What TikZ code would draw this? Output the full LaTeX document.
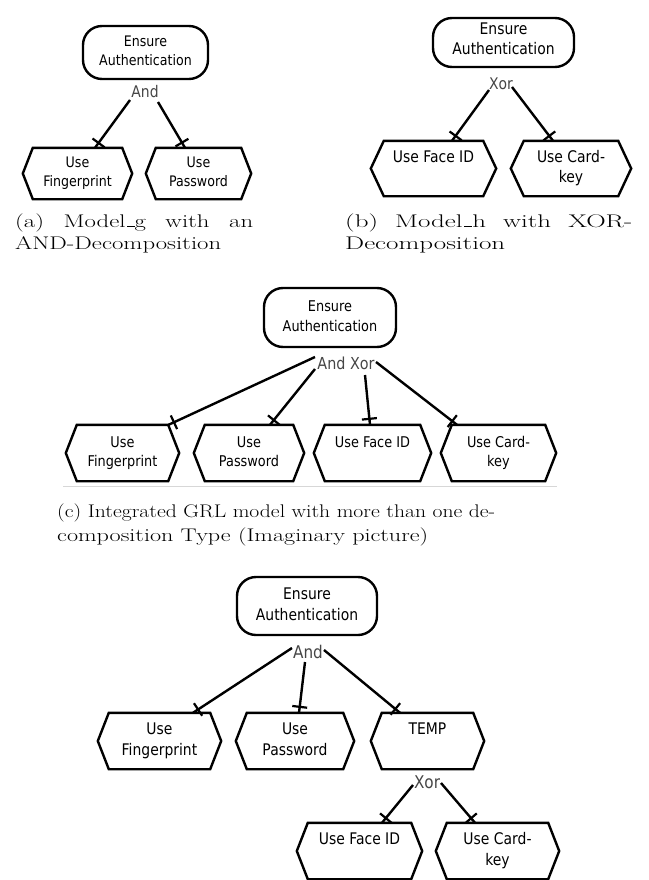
\documentclass[tikz,border=0pt]{standalone}
\usepackage{fontspec}
\usepackage{graphicx}
\newfontfamily\grlfont[FakeStretch=0.87]{DejaVu Sans}
\usetikzlibrary{calc,decorations.markings}

\definecolor{opgray}{RGB}{70,70,70}
\definecolor{rulegray}{RGB}{215,215,215}

\newlength\capnat
\newcommand\capfont{\fontsize{18.3}{22}\selectfont}
% sizes of the element texts, set per diagram
\newcommand\grlsize{14.5}
\newcommand\grlskip{19}
\newcommand\opsize{16}
% low-line as in classic TeX text fonts
\newcommand\lowline{\kern.06em\vbox{\hrule height 0.7pt width.3em}}
% first caption line: letters scaled like the second line, spaces stretched to the given width
\newcommand\capjust[3]{\resizebox{#1pt}{\height}{\makebox[\dimexpr\capnat*#1/#2\relax][s]{#3}}}
% hexagonal task outline around a blank node
\newcommand\hexframe[2]{%
  \draw[hexline] ($(#1.north west)+(#2pt,0pt)$) -- ($(#1.north east)+(-#2pt,0pt)$)
    -- (#1.east) -- ($(#1.south east)+(-#2pt,0pt)$)
    -- ($(#1.south west)+(#2pt,0pt)$) -- (#1.west) -- cycle;}

\tikzset{
  grltext/.style={font=\grlfont\fontsize{\grlsize}{\grlskip}\selectfont, align=center, inner sep=0pt},
  goal/.style={grltext, draw, line width=2.4pt, rounded corners=19pt},
  task/.style={grltext},
  hexline/.style={line width=2.4pt, line join=miter},
  oplabel/.style={font=\grlfont\fontsize{\opsize}{\opsize}\selectfont, text=opgray, inner sep=0pt},
  decomp/.style={line width=2.4pt, postaction=decorate,
    decoration={markings, mark=at position -6pt with {\draw[line width=2.2pt] (0pt,-7.5pt) -- (0pt,7.5pt);}}},
  caption/.style={font=\capfont, inner sep=0pt, anchor=base west},
}

\begin{document}
\begin{tikzpicture}[x=1pt,y=-1pt]
\useasboundingbox (0,0) rectangle (648,880);
\fill[white] (0,0) rectangle (648,880);

% ---------- (a) AND-decomposition ----------
\renewcommand\grlsize{14.5}\renewcommand\grlskip{19}\renewcommand\opsize{16}
\node[goal, minimum width=125pt, minimum height=53pt] (ga) at (145.5,52.5) {\strut Ensure\\\strut Authentication};
\node[oplabel] (la) at (145,92) {And};
\coordinate (da-l) at (130,100);
\coordinate (da-r) at (158,102);
\node[task, minimum width=109pt, minimum height=51pt] (ta1) at (77.5,173.5) {\strut Use\\\strut Fingerprint};
\node[task, minimum width=105pt, minimum height=51pt] (ta2) at (198.5,173.5) {\strut Use\\\strut Password};
\hexframe{ta1}{10}
\hexframe{ta2}{10}
\draw[decomp] (da-l) -- ([xshift=17.5pt]ta1.north);
\draw[decomp] (da-r) -- ([xshift=-13.5pt]ta2.north);

\node[caption] (capa1) at (15,227) {\settowidth\capnat{AND-Decomposition}\capjust{238}{206}{(a) Model\lowline g with an}};
\node[caption] (capa2) at (15,249) {\resizebox{206pt}{\height}{AND-Decomposition}};

% ---------- (b) XOR-decomposition ----------
\renewcommand\grlsize{16}\renewcommand\grlskip{20}\renewcommand\opsize{16}
\node[goal, minimum width=141pt, minimum height=49pt] (gb) at (503.5,42.5) {\strut Ensure\\\strut Authentication\vspace{4pt}};
\node[oplabel] (lb) at (501,84) {Xor};
\coordinate (db-l) at (489,90);
\coordinate (db-r) at (512,87);
\node[task, minimum width=125pt, minimum height=55pt] (tb1) at (433.5,168.5) {\strut Use Face ID\\\strut};
\node[task, minimum width=120pt, minimum height=55pt] (tb2) at (571,168.5) {\strut Use Card-\\\strut key};
\hexframe{tb1}{13}
\hexframe{tb2}{13}
\draw[decomp] (db-l) -- ([xshift=18.5pt]tb1.north);
\draw[decomp] (db-r) -- ([xshift=-18pt]tb2.north);

\node[caption] (capb1) at (345,227) {\settowidth\capnat{Decomposition}\capjust{287}{160}{(b) Model\lowline h with XOR-}};
\node[caption] (capb2) at (345,249) {\resizebox{160pt}{\height}{Decomposition}};

% ---------- (c) mixed decomposition ----------
\renewcommand\grlsize{14.8}\renewcommand\grlskip{19.5}\renewcommand\opsize{16.5}
\node[goal, minimum width=132pt, minimum height=59pt] (gc) at (330,317.5) {\strut Ensure\\\strut Authentication};
\node[oplabel] (lc) at (346,363) {And Xor};
\coordinate (dc1) at (315,357);
\coordinate (dc2) at (315,369);
\coordinate (dc3) at (365,375);
\coordinate (dc4) at (376,362);
\node[task, minimum width=113pt, minimum height=56pt] (tc1) at (122.5,453) {\strut Use\\\strut Fingerprint};
\node[task, minimum width=110pt, minimum height=56pt] (tc2) at (249,453) {\strut Use\\\strut Password};
\node[task, minimum width=117pt, minimum height=56pt] (tc3) at (372.5,453) {\strut Use Face ID\\\strut};
\node[task, minimum width=115pt, minimum height=56pt] (tc4) at (498.5,453) {\strut Use Card-\\\strut key};
\hexframe{tc1}{11}
\hexframe{tc2}{11}
\hexframe{tc3}{11}
\hexframe{tc4}{11}
\draw[decomp] (dc1) -- ([xshift=46pt]tc1.north);
\draw[decomp] (dc2) -- ([xshift=21pt]tc2.north);
\draw[decomp] (dc3) -- ([xshift=-2.5pt]tc3.north);
\draw[decomp] (dc4) -- ([xshift=-41.5pt]tc4.north);
\draw[rulegray, line width=1pt] (63,486) -- (557,486);

\node[caption] (capc1) at (57,517) {\resizebox{438pt}{\height}{(c) Integrated GRL model with more than one de-}};
\node[caption] (capc2) at (57,541) {\resizebox{371pt}{\height}{composition Type (Imaginary picture)}};

% ---------- (d) nested decomposition ----------
\renewcommand\grlsize{16}\renewcommand\grlskip{20.5}\renewcommand\opsize{17.5}
\node[goal, minimum width=140pt, minimum height=58pt] (gd) at (307,606) {\strut Ensure\\\strut Authentication};
\node[oplabel] (ld) at (308,652) {And};
\coordinate (dd1) at (292,648);
\coordinate (dd2) at (305,662);
\coordinate (dd3) at (324,650);
\node[task, minimum width=123pt, minimum height=56pt] (td1) at (159.5,741) {\strut Use\\\strut Fingerprint};
\node[task, minimum width=118pt, minimum height=56pt] (td2) at (295,741) {\strut Use\\\strut Password};
\node[task, minimum width=113pt, minimum height=56pt] (td3) at (427.5,741) {\strut TEMP\\\strut};
\hexframe{td1}{11}
\hexframe{td2}{11}
\hexframe{td3}{11}
\draw[decomp] (dd1) -- ([xshift=33.5pt]td1.north);
\draw[decomp] (dd2) -- ([xshift=4pt]td2.north);
\draw[decomp] (dd3) -- ([xshift=-27.5pt]td3.north);

\node[oplabel] (ld2) at (427,782) {Xor};
\coordinate (dd4) at (413,785);
\coordinate (dd5) at (441,783);
\node[task, minimum width=125pt, minimum height=56pt] (td4) at (359.5,851) {\strut Use Face ID\\\strut};
\node[task, minimum width=123pt, minimum height=56pt] (td5) at (497.5,851) {\strut Use Card-\\\strut key};
\hexframe{td4}{11}
\hexframe{td5}{11}
\draw[decomp] (dd4) -- ([xshift=22.5pt]td4.north);
\draw[decomp] (dd5) -- ([xshift=-22.5pt]td5.north);
\end{tikzpicture}
\end{document}
